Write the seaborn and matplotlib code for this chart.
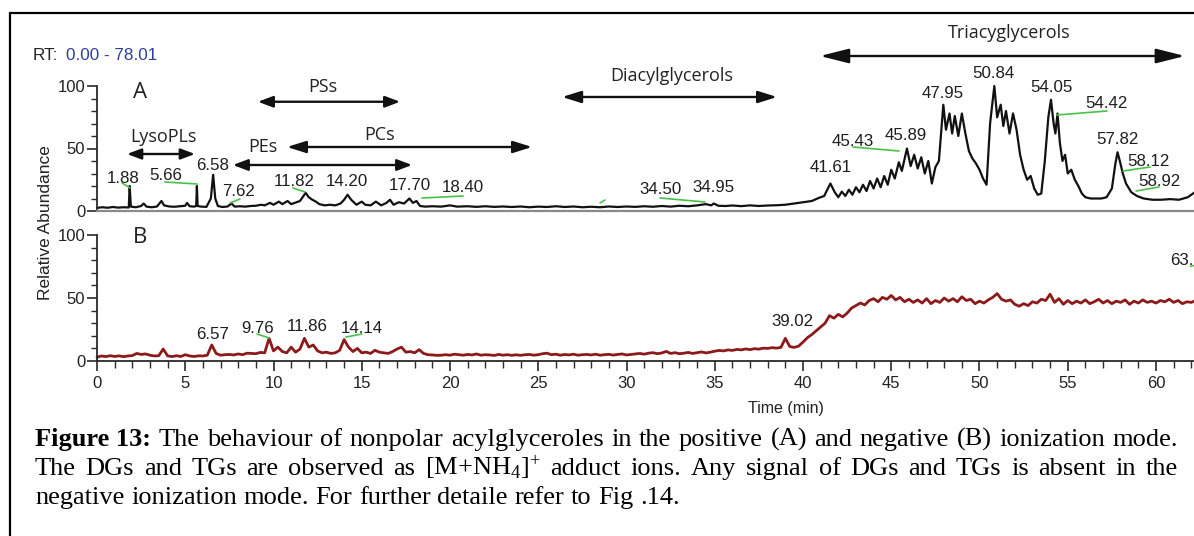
import numpy as np
import pandas as pd
import matplotlib
matplotlib.use("Agg")
import matplotlib.pyplot as plt
import seaborn as sns
from matplotlib.lines import Line2D
from matplotlib.ticker import MultipleLocator

# ---------------- data ----------------
# Panel A: positive ionization total ion chromatogram (time in min, relative abundance %)
A_time = [0.0, 0.3, 0.6, 0.9, 1.2, 1.5, 1.8, 1.85, 1.92, 2.2, 2.5, 2.65, 2.8, 3.1, 3.4, 3.65, 3.8,
          4.1, 4.4, 4.7, 5.0, 5.1, 5.25, 5.5, 5.62, 5.66, 5.70, 5.9, 6.2, 6.45, 6.58, 6.7, 6.85,
          7.1, 7.4, 7.62, 7.8, 8.1, 8.4, 8.7, 9.0, 9.3, 9.5, 9.8, 10.0, 10.3, 10.5, 10.8, 11.0,
          11.3, 11.5, 11.82, 12.0, 12.2, 12.4, 12.6, 12.9, 13.2, 13.5, 13.8, 14.0, 14.2, 14.4,
          14.7, 15.0, 15.2, 15.5, 15.8, 16.1, 16.4, 16.6, 16.8, 17.1, 17.4, 17.7, 17.9, 18.1,
          18.3, 18.6, 19.0, 19.5, 20.0, 20.4, 21.0, 21.5, 22.0, 22.5, 23.0, 23.5, 24.0, 24.5,
          25.0, 25.5, 26.0, 26.5, 27.0, 27.5, 28.0, 28.5, 29.0, 29.5, 30.0, 30.5, 31.0, 31.5,
          32.0, 32.5, 33.0, 33.5, 34.0, 34.5, 34.8, 34.95, 35.2, 35.6, 36.0, 36.5, 37.0, 37.5,
          38.0, 38.5, 39.0, 39.5, 40.0, 40.5, 40.9, 41.2, 41.55, 41.8, 42.0, 42.2, 42.4, 42.6,
          42.8, 43.0, 43.2, 43.4, 43.6, 43.8, 44.0, 44.2, 44.4, 44.6, 44.8, 45.0, 45.2, 45.43,
          45.6, 45.89, 46.1, 46.3, 46.5, 46.7, 46.9, 47.1, 47.3, 47.5, 47.7, 47.95, 48.1, 48.3,
          48.45, 48.6, 48.8, 49.0, 49.2, 49.4, 49.6, 49.8, 50.0, 50.2, 50.4, 50.6, 50.84, 51.0,
          51.2, 51.35, 51.5, 51.7, 51.9, 52.1, 52.3, 52.5, 52.7, 52.9, 53.1, 53.3, 53.5, 53.7,
          53.9, 54.05, 54.2, 54.3, 54.42, 54.55, 54.7, 54.85, 55.0, 55.2, 55.4, 55.6, 55.8,
          56.0, 56.3, 56.6, 56.9, 57.2, 57.5, 57.7, 57.82, 57.95, 58.12, 58.3, 58.6, 58.92,
          59.3, 59.8, 60.3, 60.8, 61.3, 61.8, 62.2]
A_abund = [2.5, 3.0, 2.6, 3.2, 2.7, 3.0, 2.8, 20.0, 3.5, 3.0, 4.0, 6.0, 3.5, 3.0, 3.6, 8.0, 4.5,
           3.6, 3.4, 3.8, 4.2, 6.5, 3.8, 3.5, 4.0, 20.0, 4.0, 3.5, 3.3, 10.0, 29.0, 10.0, 4.0,
           3.2, 3.6, 6.0, 3.5, 3.8, 3.5, 4.0, 4.2, 5.0, 4.5, 6.5, 5.0, 7.5, 5.5, 8.0, 5.5,
           7.0, 8.0, 14.5, 11.0, 9.0, 7.5, 5.5, 4.5, 5.0, 4.5, 6.0, 9.0, 13.0, 9.0,
           5.0, 7.5, 5.0, 4.5, 7.5, 4.5, 6.5, 9.0, 5.0, 7.0, 6.0, 10.0, 6.5, 8.0,
           4.0, 3.5, 3.8, 3.5, 4.5, 3.5, 3.8, 3.3, 3.8, 3.3, 3.6, 3.2, 3.6, 3.0,
           3.5, 3.2, 3.8, 3.2, 3.6, 3.0, 3.4, 3.0, 3.6, 3.2, 3.6, 3.3, 3.8, 3.4,
           4.0, 3.5, 4.2, 3.8, 4.5, 5.5, 4.5, 6.0, 4.2, 4.0, 4.4, 3.9, 4.5, 4.0,
           4.4, 4.6, 5.0, 6.0, 7.0, 8.0, 10.5, 12.0, 22.0, 15.0, 11.0, 15.5, 12.0, 17.0,
           13.0, 19.0, 15.0, 21.0, 16.0, 24.0, 18.0, 26.0, 19.0, 28.0, 21.0, 33.0, 26.0, 39.0,
           32.0, 50.0, 36.0, 45.0, 34.0, 43.0, 30.0, 40.0, 22.0, 35.0, 40.0, 85.0, 65.0, 78.0,
           62.0, 76.0, 60.0, 78.0, 62.0, 48.0, 42.0, 38.0, 33.0, 26.0, 21.0, 70.0, 100.0, 75.0,
           85.0, 68.0, 80.0, 62.0, 78.0, 65.0, 45.0, 33.0, 25.0, 28.0, 18.0, 13.0, 14.0, 40.0,
           75.0, 89.0, 70.0, 62.0, 78.0, 55.0, 40.0, 45.0, 30.0, 33.0, 25.0, 20.0, 14.0,
           11.0, 10.0, 10.0, 10.0, 11.0, 18.0, 38.0, 47.0, 40.0, 30.0, 22.0, 15.0, 12.0,
           10.0, 9.0, 9.0, 9.5, 9.0, 11.0, 15.0]

# Panel B: negative ionization chromatogram, sampled every 0.25 min
B_time = np.round(np.arange(0, 62.26, 0.25), 2)
B_abund = [
    3.0, 4.0, 3.5, 4.2, 3.6, 4.1, 3.4, 4.0, 4.3, 6.0, 5.2, 5.6, 4.6, 4.0, 4.2, 9.5, 4.1, 3.5, 4.2, 3.6,
    5.0, 4.0, 3.6, 4.1, 4.0, 4.6, 12.7, 6.0, 4.6, 5.0, 5.2, 4.8, 5.6, 5.0, 6.2, 6.0, 5.8, 6.8, 6.5, 18.0,
    8.0, 11.0, 7.5, 6.5, 11.0, 7.0, 9.5, 18.0, 11.0, 12.7, 8.0, 6.5, 7.0, 6.0, 6.5, 8.5, 17.0, 11.0, 7.5, 10.0,
    6.5, 7.0, 6.0, 8.5, 7.0, 6.5, 6.0, 7.5, 9.5, 11.0, 7.0, 7.5, 6.5, 9.0, 6.0, 5.0, 4.8, 4.5, 4.6, 5.0,
    4.6, 5.4, 5.0, 4.6, 5.2, 4.8, 5.6, 4.6, 5.0, 4.8, 4.4, 5.2, 4.6, 5.0, 4.5, 4.9, 4.5, 5.0, 5.2, 4.6,
    5.0, 5.8, 6.2, 5.0, 5.4, 4.6, 5.2, 4.8, 5.4, 4.6, 5.0, 5.2, 4.8, 5.4, 4.6, 5.0, 5.3, 4.7, 5.2, 5.6,
    4.8, 5.2, 5.6, 6.0, 5.4, 6.2, 6.6, 5.8, 6.4, 7.6, 6.0, 6.6, 5.8, 6.2, 6.8, 6.0, 6.6, 7.2, 6.4, 7.0,
    7.8, 8.4, 8.0, 8.8, 8.4, 9.2, 8.8, 9.6, 9.0, 9.8, 9.4, 10.2, 10.0, 10.6, 10.2, 10.8, 18.0, 11.5, 10.8, 11.8,
    15.0, 18.5, 21.0, 24.0, 27.0, 30.0, 36.0, 34.0, 37.0, 35.0, 38.0, 42.0, 44.0, 46.0, 44.5, 48.0, 49.5, 47.0, 50.5, 49.0,
    52.0, 48.5, 50.5, 47.0, 49.0, 46.5, 48.5, 46.0, 49.5, 45.5, 48.0, 46.5, 50.0, 47.5, 49.5, 47.0, 51.0, 48.0, 49.0, 45.5,
    47.5, 46.0, 48.5, 50.5, 53.5, 49.0, 47.5, 48.5, 45.0, 43.5, 45.5, 44.0, 47.0, 46.0, 49.0, 48.0, 53.0, 46.5, 49.5, 45.0,
    48.0, 45.5, 47.5, 46.0, 48.5, 45.5, 47.0, 49.0, 46.0, 48.0, 45.5, 47.5, 46.5, 48.5, 45.0, 47.5, 46.0, 48.5, 46.5, 47.5,
    46.0, 48.0, 47.0, 49.0, 46.5, 48.0, 45.5, 47.0, 46.5, 48.0]

A_peak_labels = ["1.88", "5.66", "6.58", "7.62", "11.82", "14.20", "17.70", "18.40", "34.50", "34.95",
                 "41.61", "45.43", "45.89", "47.95", "50.84", "54.05", "54.42", "57.82", "58.12", "58.92"]
B_peak_labels = ["6.57", "9.76", "11.86", "14.14", "39.02", "63."]
class_labels = ["LysoPLs", "PSs", "PEs", "PCs", "Diacylglycerols", "Triacyglycerols"]

# ---------------- layout (positions in data units) ----------------
A_label_xy = [(1.47, 26.0), (3.91, 28.8), (6.52, 36.8), (8.0, 15.2), (11.16, 23.2), (14.16, 23.2),
              (17.73, 20.8), (20.74, 18.4), (31.9, 16.8), (34.9, 18.4), (41.59, 35.2), (42.83, 56.0),
              (45.84, 60.0), (47.9, 94.4), (50.8, 110.4), (54.1, 98.4), (57.17, 85.6), (57.79, 56.8),
              (59.6, 40.0), (60.17, 24.0)]
A_connectors = [(1.42, 22.4, 1.87, 18.4), (3.85, 23.2, 5.67, 21.6), (7.54, 6.4, 8.1, 9.6),
                (11.1, 18.4, 11.78, 15.2), (18.41, 10.4, 20.74, 12.0), (28.5, 6.4, 28.78, 8.8),
                (31.9, 10.4, 34.45, 7.2), (42.83, 51.2, 45.44, 48.0), (54.39, 76.8, 57.22, 80.0),
                (58.13, 32.0, 59.66, 35.2), (58.87, 16.0, 60.17, 19.2)]
B_label_xy = [(6.57, 21.4), (9.12, 25.4), (11.9, 27.0), (15.0, 25.4), (39.38, 31.0), (60.79, 80.0)]
B_connectors = [(9.07, 21.4, 9.75, 18.3), (14.1, 19.0, 15.0, 21.4), (61.95, 75.0, 62.3, 76.5)]

# class label: (text x, text y, arrow x0, arrow x1, arrow y, head length, head half-width)
class_layout = [(3.74, 59.2, 1.70, 5.55, 45.6, 0.85, 0.32),
                (12.8, 99.0, 9.12, 17.17, 87.4, 0.9, 0.34),
                (9.4, 51.2, 7.70, 17.85, 36.8, 0.9, 0.34),
                (16.0, 60.8, 10.76, 24.65, 51.2, 1.15, 0.36),
                (32.58, 108.0, 26.35, 38.53, 91.2, 1.15, 0.36),
                (51.67, 142.4, 40.96, 61.64, 124.0, 1.75, 0.44)]

# ---------------- style ----------------
sns.set_theme(style="white")
plt.rcParams["font.family"] = ["Liberation Sans", "DejaVu Sans"]
plt.rcParams["mathtext.fontset"] = "custom"
plt.rcParams["mathtext.rm"] = "Liberation Serif"
plt.rcParams["mathtext.it"] = "Liberation Serif:italic"
plt.rcParams["mathtext.bf"] = "Liberation Serif:bold"

W, H = 1194, 536
fig = plt.figure(figsize=(W / 100, H / 100), dpi=100)
fig.patch.set_facecolor("white")

XMAX = 1097 / 17.65
axA = fig.add_axes([97 / W, 1 - 211 / H, 1097 / W, 125 / H])
axB = fig.add_axes([97 / W, 1 - 361 / H, 1097 / W, 126 / H])

dfA = pd.DataFrame({"time": A_time, "abund": A_abund})
dfB = pd.DataFrame({"time": B_time, "abund": B_abund})

sns.lineplot(data=dfA, x="time", y="abund", ax=axA, color="#111111", lw=1.6, estimator=None)
sns.lineplot(data=dfB, x="time", y="abund", ax=axB, color="#8c1a1a", lw=2.0, estimator=None)
for ax in (axA, axB):
    for ln in ax.get_lines():
        ln.set_clip_on(False)

AX_COL = "#2a2a2a"
for ax in (axA, axB):
    ax.set_xlim(0, XMAX)
    ax.set_ylim(0, 100)
    ax.set_facecolor("none")
    ax.set_xlabel("")
    ax.set_ylabel("")
    ax.spines["top"].set_visible(False)
    ax.spines["right"].set_visible(False)
    ax.spines["left"].set_color(AX_COL)
    ax.spines["left"].set_linewidth(1.3)
    ax.set_yticks([0, 50, 100])
    ax.set_yticklabels(["0", "50", "100"])
    ax.yaxis.set_minor_locator(MultipleLocator(10))
    ax.tick_params(axis="y", which="major", length=7, width=1.2, direction="out", pad=1.5,
                   color=AX_COL, labelsize=12, labelcolor="#222222", left=True)
    ax.tick_params(axis="y", which="minor", length=4.5, width=1.0, direction="out",
                   color=AX_COL, left=True)
    ax.grid(False)

axA.spines["bottom"].set_color("#8a8a8a")
axA.spines["bottom"].set_linewidth(1.6)
axA.tick_params(axis="x", which="both", bottom=False, labelbottom=False)

axB.spines["bottom"].set_color(AX_COL)
axB.spines["bottom"].set_linewidth(1.3)
axB.set_xticks(range(0, 61, 5))
axB.xaxis.set_minor_locator(MultipleLocator(1))
axB.tick_params(axis="x", which="major", length=7, width=1.2, direction="out", pad=4,
                color=AX_COL, labelsize=12, labelcolor="#222222", bottom=True)
axB.tick_params(axis="x", which="minor", length=5, width=1.0, direction="out",
                color=AX_COL, bottom=True)

# peak labels and green connectors
GREEN = "#47c247"
PK = dict(fontsize=12.2, color="#1e1e1e", ha="center", va="center", clip_on=False)
for lab, (x, y) in zip(A_peak_labels, A_label_xy):
    axA.text(x, y, lab, **PK)
for x0, y0, x1, y1 in A_connectors:
    axA.plot([x0, x1], [y0, y1], color=GREEN, lw=1.2, clip_on=False)
for lab, (x, y) in zip(B_peak_labels, B_label_xy):
    kw = dict(PK)
    if lab == "63.":
        kw["ha"] = "left"
    axB.text(x, y, lab, **kw)
for x0, y0, x1, y1 in B_connectors:
    axB.plot([x0, x1], [y0, y1], color=GREEN, lw=1.2, clip_on=False)

# class labels with double-headed arrows
for lab, (tx, ty, x0, x1, ay, hl, hw) in zip(class_labels, class_layout):
    axA.text(tx, ty, lab, fontsize=13, family=["Open Sans", "DejaVu Sans"], color="#222222",
             ha="center", va="center", clip_on=False)
    axA.annotate("", xy=(x1, ay), xytext=(x0, ay), annotation_clip=False,
                 arrowprops=dict(arrowstyle=f"<|-|>,head_length={hl},head_width={hw}",
                                 mutation_scale=10, color="#111111", lw=1.7,
                                 shrinkA=0, shrinkB=0))

# panel letters
axA.text(2.44, 94.4, "A", fontsize=16, family=["Open Sans", "DejaVu Sans"], color="#222222",
         ha="center", va="center", clip_on=False)
axB.text(2.44, 98.4, "B", fontsize=16, family=["Open Sans", "DejaVu Sans"], color="#222222",
         ha="center", va="center", clip_on=False)

# RT header, axis titles
fig.text(33 / W, 1 - 55 / H, "RT:", fontsize=12.3, color="#222222", ha="left", va="center")
fig.text(66 / W, 1 - 55 / H, "0.00 - 78.01", fontsize=12.3, color="#2f3f9c", ha="left", va="center")
fig.text(46 / W, 1 - 223 / H, "Relative Abundance", rotation=90, fontsize=12.5, color="#222222",
         ha="center", va="center")
fig.text(786 / W, 1 - 408 / H, "Time (min)", fontsize=11.5, color="#222222", ha="center", va="center")

# outer frame (top and left edges visible)
fig.add_artist(Line2D([10 / W, 1.0], [1 - 13 / H, 1 - 13 / H], color="black", lw=1.6,
                      transform=fig.transFigure))
fig.add_artist(Line2D([10 / W, 10 / W], [1 - 13 / H, 0.0], color="black", lw=1.6,
                      transform=fig.transFigure))

# caption, justified
CAP = dict(fontsize=19, family=["Liberation Serif", "DejaVu Serif"], color="black",
           ha="left", va="baseline")
cap_lines = [
    [("Figure 13:", "bold")] + [(w, "normal") for w in
        "The behaviour of nonpolar acylglyceroles in the positive (A) and negative (B) ionization mode.".split()],
    [(w, "normal") for w in
        ["The", "DGs", "and", "TGs", "are", "observed", "as", r"$[\mathrm{M{+}NH}_{4}]^{+}$", "adduct",
         "ions.", "Any", "signal", "of", "DGs", "and", "TGs", "is", "absent", "in", "the"]],
    [(w, "normal") for w in "negative ionization mode. For further detaile refer to Fig .14.".split()],
]
baselines = [446, 475, 504]
X0, X1 = 35, 1178
renderer = fig.canvas.get_renderer()
for li, (words, yb) in enumerate(zip(cap_lines, baselines)):
    texts = [fig.text(0, 1 - yb / H, w, fontweight=wt, **CAP) for w, wt in words]
    widths = [t.get_window_extent(renderer).width for t in texts]
    if li < 2:
        gap = (X1 - X0 - sum(widths)) / (len(words) - 1)
    else:
        sp = fig.text(0, 0, " ", **CAP)
        gap = sp.get_window_extent(renderer).width
        sp.remove()
    x = X0
    for t, w in zip(texts, widths):
        t.set_x(x / W)
        x += w + gap

fig.savefig("out.png", dpi=100)
